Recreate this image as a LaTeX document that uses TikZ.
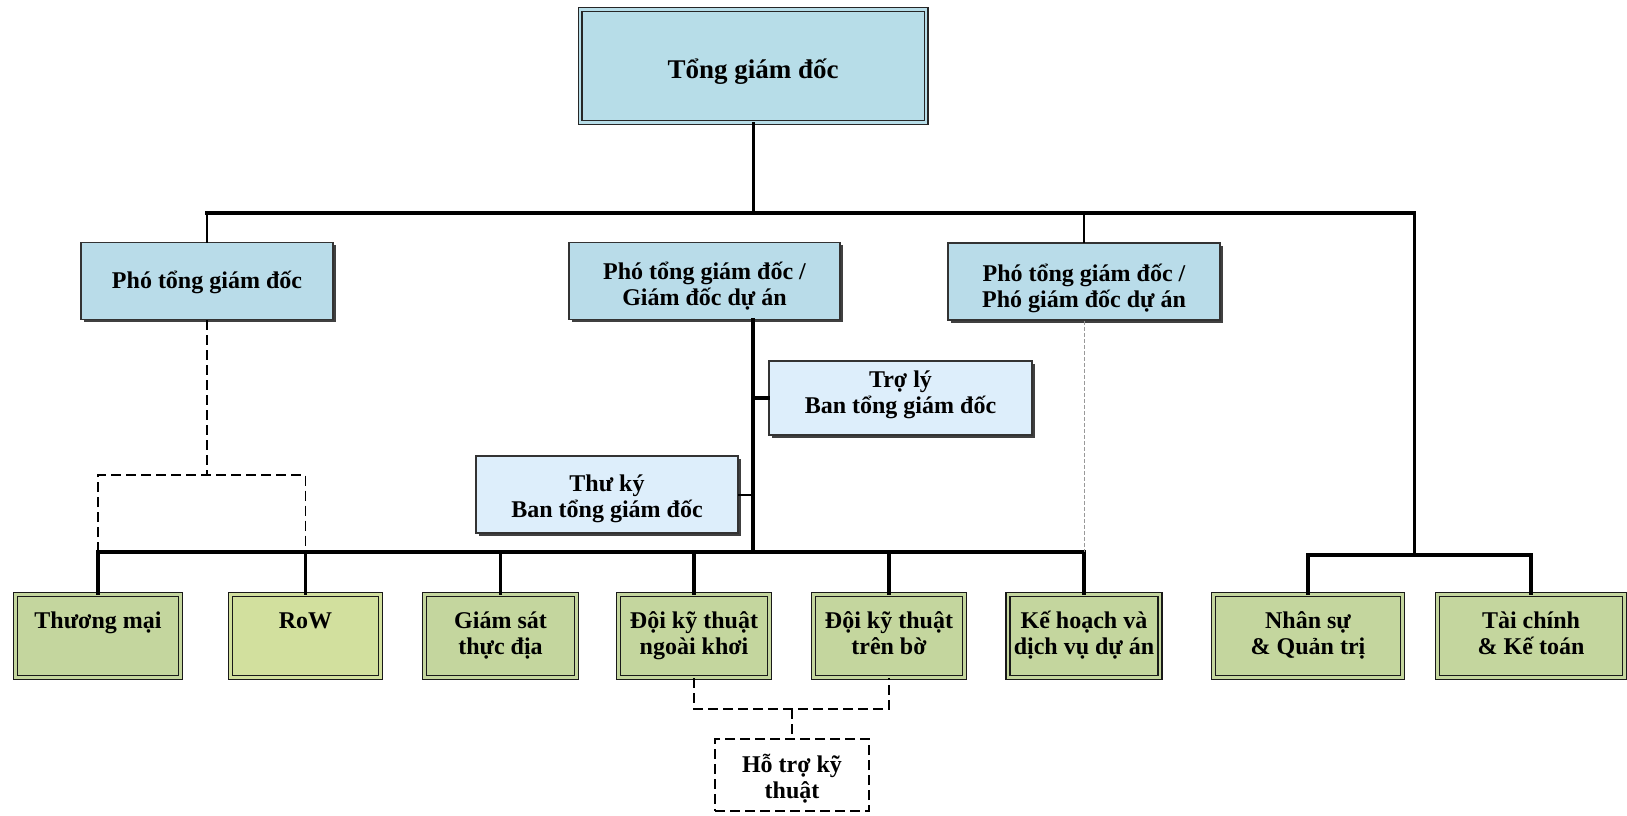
\documentclass[tikz,border=0pt]{standalone}
\usepackage{fontspec}
\setmainfont{Liberation Serif}
\usetikzlibrary{shadows}
\definecolor{topblue}{HTML}{B7DDE8}
\definecolor{midblue}{HTML}{B9DCE9}
\definecolor{paleblue}{HTML}{DDEEFB}
\definecolor{unitgreen}{HTML}{C4D69E}
\definecolor{rowgreen}{HTML}{D2E09E}
\newcommand\orgfont{\fontsize{24}{26}\selectfont\bfseries}
\newcommand\orgtopfont{\fontsize{27}{30}\selectfont\bfseries}
\begin{document}
\begin{tikzpicture}[x=1pt,y=-1pt,line cap=rect,
  base/.style={inner sep=0pt, align=center, font=\orgfont},
  % vertical placement of the lettering inside a box
  oneline/.style={text height=20pt, text depth=5pt},
  twolines/.style={text height=#1, text depth=5pt},
  shade2/.style={drop shadow={shadow xshift=2.5pt, shadow yshift=-2.5pt, fill=black!75, opacity=1}},
  topbox/.style={base, font=\orgtopfont, text height=30pt, text depth=5.6pt, fill=topblue, draw=black!85, line width=1.2pt, double=topblue, double distance=2.6pt, shade2},
  vpbox/.style={base, fill=midblue, draw=black!80, line width=1.5pt, shade2},
  aidbox/.style={base, fill=paleblue, draw=black!80, line width=1.5pt, shade2},
  unitbox/.style={base, twolines=42pt, fill=unitgreen, draw=black!90, line width=1.6pt, double=unitgreen, double distance=2.2pt},
  supbox/.style={base, fill=white, draw=black, line width=1.6pt, line cap=butt, dash pattern=on 10pt off 5pt},
  linkdash/.style={line width=1.8pt, line cap=butt, dash pattern=on 10pt off 5pt},
  greydash/.style={draw=black!40, line width=1pt, line cap=butt, dash pattern=on 4pt off 2pt},
]
\useasboundingbox (0,0) rectangle (1627,816);

% top
\node[topbox, minimum width=346pt, minimum height=113pt] (ceo) at (753,66) {Tổng giám đốc};

% deputies
\node[vpbox, oneline, minimum width=252pt, minimum height=77pt] (vp1) at (207,281) {Phó tổng giám đốc};
\node[vpbox, twolines=53pt, minimum width=271pt, minimum height=77pt] (vp2) at (704.5,281) {Phó tổng giám đốc /\\Giám đốc dự án};
\node[vpbox, twolines=57pt, minimum width=272pt, minimum height=77pt] (vp3) at (1084,281.5) {Phó tổng giám đốc /\\Phó giám đốc dự án};

% assistants
\node[aidbox, twolines=35pt, minimum width=263pt, minimum height=74pt] (aide) at (900.5,398) {Trợ lý\\Ban tổng giám đốc};
\node[aidbox, twolines=51pt, minimum width=262pt, minimum height=77pt] (secr) at (607,494.5) {Thư ký\\Ban tổng giám đốc};

% departments
\node[unitbox, minimum width=165pt, minimum height=83pt] (u1) at (98,636) {Thương mại\\\mbox{}};
\node[unitbox, fill=rowgreen, double=rowgreen, minimum width=150pt, minimum height=83pt] (u2) at (305.5,636) {RoW\\\mbox{}};
\node[unitbox, minimum width=152pt, minimum height=83pt] (u3) at (500.5,636) {Giám sát\\thực địa};
\node[unitbox, minimum width=151pt, minimum height=83pt] (u4) at (694,636) {Đội kỹ thuật\\ngoài khơi};
\node[unitbox, minimum width=151pt, minimum height=83pt] (u5) at (889,636) {Đội kỹ thuật\\trên bờ};
\node[unitbox, minimum width=152pt, minimum height=83pt] (u6) at (1084,636) {Kế hoạch và\\dịch vụ dự án};
\node[unitbox, minimum width=189pt, minimum height=83pt] (u7) at (1308,636) {Nhân sự\\\& Quản trị};
\node[unitbox, minimum width=187pt, minimum height=83pt] (u8) at (1531,636) {Tài chính\\\& Kế toán};

% technical support
\node[supbox, twolines=52pt, minimum width=154pt, minimum height=72pt] (sup) at (792,775) {Hỗ trợ kỹ\\thuật};

% junction points
\coordinate (hub) at (753,213);
\coordinate (busE) at (1414,213);
\coordinate (hrHub) at (1414,555);
\coordinate (opsBus) at (753,552);
\coordinate (leftFork) at (207,475);
\coordinate (techFork) at (792,709);

% top level bus
\draw[line width=3pt] (ceo.south) -- (hub);
\draw[line width=4pt] (vp1.north |- hub) -- (busE);
\draw[line width=2pt] (vp1.north |- hub) -- (vp1.north);
\draw[line width=2pt] (vp3.north |- hub) -- (vp3.north);
\draw[line width=3pt] (busE) -- (hrHub);

% support functions
\draw[line width=3.4pt] (u7.north |- hrHub) -- (u8.north |- hrHub);
\draw[line width=3.4pt] (u7.north |- hrHub) -- (u7.north);
\draw[line width=3.4pt] (u8.north |- hrHub) -- (u8.north);

% operations trunk
\draw[line width=4.6pt] (vp2.south -| hub) -- (aide.west -| hub);
\draw[line width=3.6pt] (aide.west -| hub) -- (opsBus);
\draw[line width=4pt] (aide.west -| hub) -- (aide.west);
\draw[line width=2pt] (secr.east) -- (secr.east -| hub);
\draw[line width=3.4pt] (u1.north |- opsBus) -- (u6.north |- opsBus);
\foreach \u in {u1,u2,u3,u4,u5,u6}
  \draw[line width=3.4pt] (\u.north |- opsBus) -- (\u.north);

% dotted reporting lines
\draw[linkdash] (vp1.south) -- (leftFork);
\draw[linkdash] (u1.north |- opsBus) -- (u1.north |- leftFork) -- (u2.north |- leftFork) -- (u2.north |- opsBus);
\draw[greydash] (vp3.south) -- (vp3.south |- opsBus);
\draw[linkdash] (u4.south) -- (u4.south |- techFork) -- (u5.south |- techFork) -- (u5.south);
\draw[linkdash] (techFork) -- (sup.north);
\end{tikzpicture}
\end{document}
